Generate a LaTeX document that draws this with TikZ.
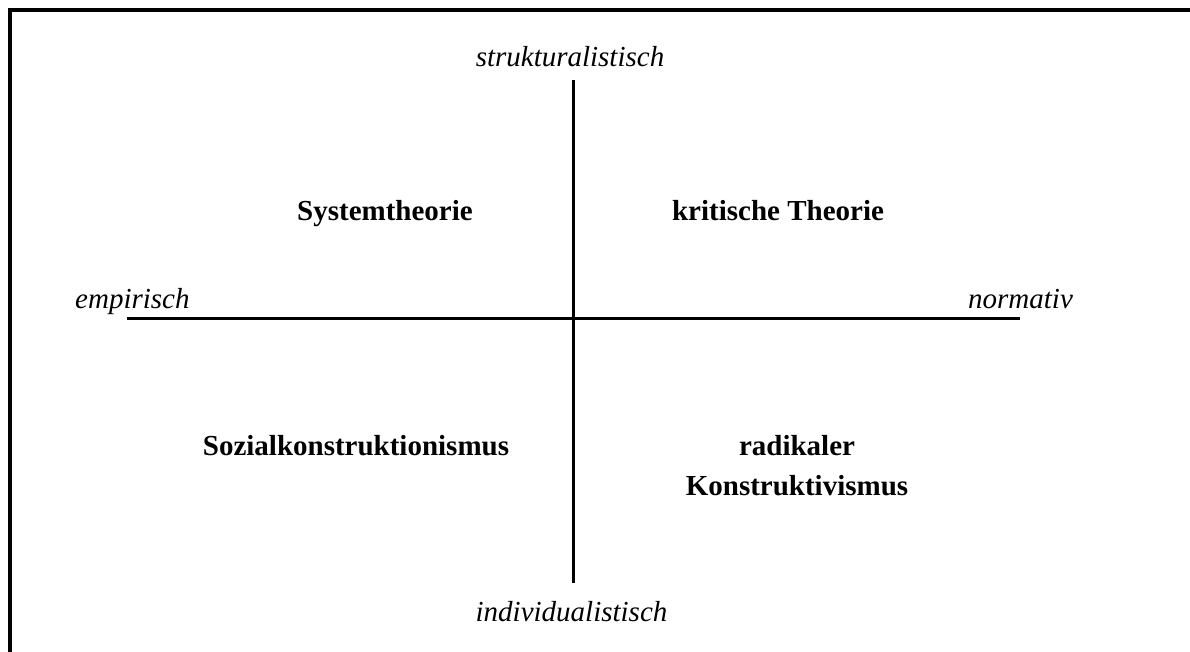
\documentclass[tikz,border=0pt]{standalone}
\usepackage{fontspec}
\setmainfont{Liberation Serif}
\begin{document}
\begin{tikzpicture}[x=1pt,y=-1pt,
  axislabel/.style={font=\fontsize{29}{40}\selectfont\itshape, inner sep=0pt},
  theory/.style={font=\fontsize{29}{40}\selectfont\bfseries, inner sep=0pt, align=center},
  axis/.style={line width=2.8pt},
  frameline/.style={line width=4pt}]
\useasboundingbox (0,0) rectangle (1190,652);
\draw[frameline] (10,652) -- (10,10) -- (1190,10);
% axis end points
\coordinate (top) at (573.5,80);
\coordinate (bottom) at (573.5,583);
\coordinate (left) at (127,318.5);
\coordinate (right) at (1020,318.5);
\draw[axis] (top) -- (bottom);
\draw[axis] (left) -- (right);
% axis labels
\node[axislabel, anchor=base] (struk) at (570,67) {strukturalistisch};
\node[axislabel, anchor=base] (indiv) at (571.5,621) {individualistisch};
\node[axislabel, anchor=base west] (emp) at (75,308) {empirisch};
\node[axislabel, anchor=base west] (norm) at (968,308) {normativ};
% theories
\node[theory, anchor=base] (sys) at (385,221) {Systemtheorie};
\node[theory, anchor=base] (krit) at (778,221) {kritische Theorie};
\node[theory, anchor=base] (sozial) at (356,455) {Sozialkonstruktionismus};
\node[theory, anchor=base] (radikal) at (797,495) {radikaler\\Konstruktivismus};
\end{tikzpicture}
\end{document}
